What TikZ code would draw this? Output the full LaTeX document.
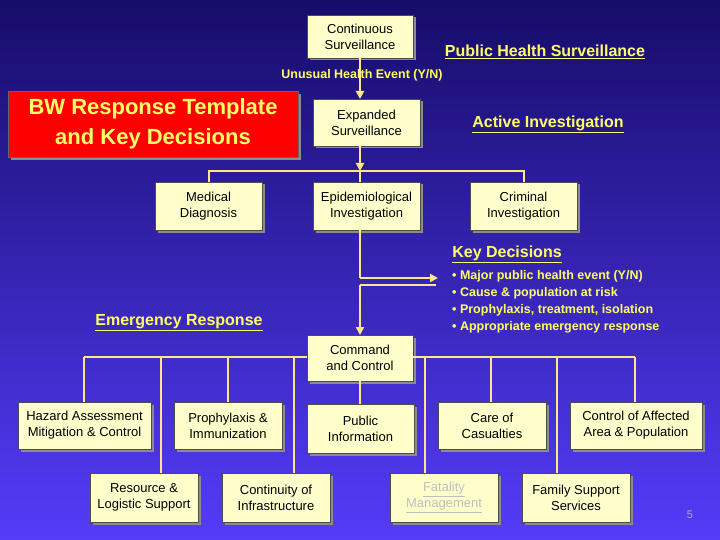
\documentclass[tikz,border=0pt]{standalone}
\usepackage{fontspec}
\setmainfont{Liberation Sans}
\usetikzlibrary{arrows.meta,shadows}
\definecolor{boxfill}{RGB}{255,255,204}
\definecolor{lnc}{RGB}{255,230,140}
\definecolor{ytxt}{RGB}{255,255,102}
\definecolor{bgtop}{RGB}{22,12,105}
\definecolor{bgbot}{RGB}{85,60,250}
\tikzset{
 bx/.style={draw=black!70,fill=boxfill,line width=0.8pt,align=center,font=\fontsize{13}{16}\selectfont,inner sep=0pt,
   drop shadow={shadow xshift=2.5pt,shadow yshift=-2.5pt,fill=black!45,opacity=1}},
 ln/.style={draw=lnc,line width=2pt},
 ar/.style={ln,-{Triangle[length=8pt,width=8pt]}},
 hd/.style={text=ytxt,font=\bfseries\fontsize{16}{19}\selectfont},
}
\newcommand{\ul}[1]{\underline{#1}}
\begin{document}
\begin{tikzpicture}[x=1pt,y=-1pt]
\shade[top color=bgtop,bottom color=bgbot] (0,0) rectangle (720,540);
\useasboundingbox (0,0) rectangle (720,540);
\newcommand{\B}[6]{\node[bx,minimum width={#3-#2},minimum height={#5-#4}] (#1) at ({(#2+#3)/2},{(#4+#5)/2}) {#6};}
\B{cont}{307}{413}{15}{58}{Continuous\\Surveillance}
\B{exp}{313}{420}{99}{146}{Expanded\\Surveillance}
\B{med}{155}{262}{182}{230}{Medical\\Diagnosis}
\B{epi}{313}{420}{182}{230}{Epidemiological\\Investigation}
\B{crim}{470}{577}{182}{230}{Criminal\\Investigation}
\B{cmd}{307}{413}{335}{381}{Command\\and Control}
\B{haz}{18}{151}{402}{449}{Hazard Assessment\\Mitigation \& Control}
\B{pro}{174}{282}{402}{449}{Prophylaxis \&\\Immunization}
\B{pub}{307}{414}{404}{453}{Public\\Information}
\B{care}{438}{546}{402}{449}{Care of\\Casualties}
\B{ctl}{570}{702}{402}{449}{Control of Affected\\Area \& Population}
\B{res}{90}{198}{473}{522}{Resource \&\\Logistic Support}
\B{cti}{222}{330}{473}{522}{Continuity of\\Infrastructure}
\B{fat}{390}{498}{473}{522}{\textcolor{black!25}{\ul{Fatality}}\\\textcolor{black!25}{\ul{Management}}}
\B{fam}{522}{630}{473}{522}{Family Support\\Services}
\node[draw=black!60,fill=red,line width=0.8pt,minimum width=290,minimum height=66,align=center,text=ytxt,
  font=\bfseries\fontsize{22}{30}\selectfont,inner sep=0pt,
  drop shadow={shadow xshift=3pt,shadow yshift=-3pt,fill=black!45,opacity=1}] (bw) at (153,124)
  {BW Response Template\\and Key Decisions};
\node[hd] (phs) at (545,52) {\ul{Public Health Surveillance}};
\node[hd] (ai) at (548,124) {\ul{Active Investigation}};
\node[hd] (kd) at (507,254) {\ul{Key Decisions}};
\node[hd] (er) at (179,323) {\ul{Emergency Response}};
\node[text=ytxt,font=\bfseries\fontsize{12.5}{15}\selectfont] (ue) at (362,75) {Unusual Health Event (Y/N)};
\node[text=ytxt,font=\bfseries\fontsize{12.5}{17}\selectfont,align=left,anchor=north west,inner sep=0pt] (kl) at (452,270)
 {• Major public health event (Y/N)\\• Cause \& population at risk\\• Prophylaxis, treatment, isolation\\• Appropriate emergency response};
\node[text=black!30,font=\fontsize{11}{13}\selectfont] (pg) at (690,515) {5};
% connectors
\coordinate (c0) at (360,58);
\coordinate (b1) at (360,171);
\draw[ar] (c0) -- (360,99);
\draw[ar] (360,146) -- (b1);
\draw[ln] (med.north) |- (crim.north |- b1) -- (crim.north);
\draw[ln] (b1) -- (360,182);
\coordinate (k1) at (360,278);
\coordinate (k2) at (438,278);
\coordinate (k3) at (436,285);
\coordinate (k4) at (360,285);
\draw[ln] (360,230) -- (k1);
\draw[ar] (k1) -- (k2);
\draw[ln] (k3) -- (k4);
\draw[ar] (k4) -- (360,335);
\draw[ln] (84,357) -- (cmd.west |- 0,357);
\draw[ln] (cmd.east |- 0,357) -- (635,357);
\foreach \n/\x in {haz/84,res/161,pro/228,cti/294,fat/425,care/491,fam/557,ctl/635}
  \draw[ln] (\x,357) -- (\x,0 |- \n.north);
\draw[ln] (360,381) -- (360,404);
\end{tikzpicture}
\end{document}
